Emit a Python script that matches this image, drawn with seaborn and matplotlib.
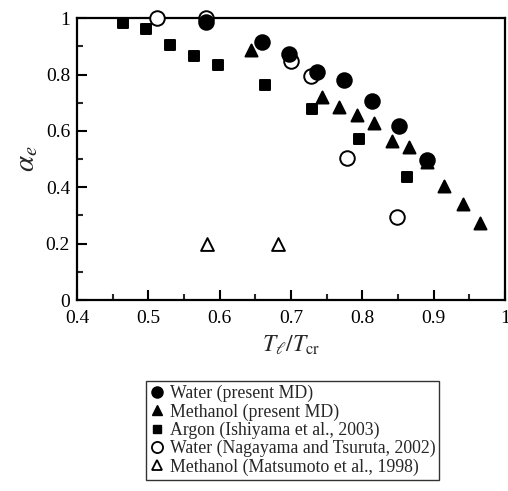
import matplotlib
matplotlib.use("Agg")
import matplotlib.pyplot as plt
import seaborn as sns
import pandas as pd
from matplotlib.ticker import MultipleLocator

# Water (present MD)
water_md_x = [0.581, 0.659, 0.697, 0.737, 0.774, 0.814, 0.852, 0.891]
water_md_y = [0.987, 0.916, 0.872, 0.810, 0.780, 0.706, 0.617, 0.496]
# Methanol (present MD)
meth_md_x = [0.644, 0.743, 0.767, 0.792, 0.816, 0.842, 0.866, 0.891, 0.915, 0.941, 0.965]
meth_md_y = [0.887, 0.719, 0.686, 0.656, 0.627, 0.564, 0.544, 0.490, 0.404, 0.340, 0.272]
# Argon (Ishiyama et al., 2003)
argon_x = [0.464, 0.497, 0.531, 0.564, 0.597, 0.663, 0.730, 0.796, 0.862]
argon_y = [0.983, 0.962, 0.905, 0.865, 0.833, 0.762, 0.676, 0.571, 0.437]
# Water (Nagayama and Tsuruta, 2002)
water_nt_x = [0.512, 0.581, 0.700, 0.728, 0.778, 0.849]
water_nt_y = [1.0, 1.0, 0.848, 0.795, 0.505, 0.295]
# Methanol (Matsumoto et al., 1998)
meth_m_x = [0.582, 0.682]
meth_m_y = [0.20, 0.20]

sns.set_style("ticks")
plt.rcParams['font.family'] = ['Liberation Serif', 'DejaVu Serif']
plt.rcParams['mathtext.fontset'] = 'stix'

fig = plt.figure(figsize=(5.08, 4.91), dpi=100)
ax = fig.add_axes([0.1516, 0.389, 0.8425, 0.574])

series = [
    (water_nt_x, water_nt_y, 'o', 'white', 110, "Water (Nagayama and Tsuruta, 2002)"),
    (argon_x, argon_y, 's', 'black', 60, "Argon (Ishiyama et al., 2003)"),
    (meth_md_x, meth_md_y, '^', 'black', 75, "Methanol (present MD)"),
    (water_md_x, water_md_y, 'o', 'black', 110, "Water (present MD)"),
    (meth_m_x, meth_m_y, '^', 'white', 85, "Methanol (Matsumoto et al., 1998)"),
]
for xs, ys, m, fc, s, lab in series:
    df = pd.DataFrame({'x': xs, 'y': ys})
    sns.scatterplot(data=df, x='x', y='y', ax=ax, marker=m, s=s,
                    facecolor=fc, edgecolor='black', linewidth=1.4,
                    clip_on=False, zorder=3, legend=False)

ax.set_xlim(0.4, 1.0)
ax.set_ylim(0, 1.0)
ax.xaxis.set_minor_locator(MultipleLocator(0.05))
ax.yaxis.set_minor_locator(MultipleLocator(0.1))
ax.set_xticks([0.4, 0.5, 0.6, 0.7, 0.8, 0.9, 1.0])
ax.set_yticks([0, 0.2, 0.4, 0.6, 0.8, 1.0])
ax.set_xticklabels(['0.4', '0.5', '0.6', '0.7', '0.8', '0.9', '1'])
ax.set_yticklabels(['0', '0.2', '0.4', '0.6', '0.8', '1'])
ax.tick_params(which='major', direction='in', length=7, width=1.5, labelsize=14,
               colors='black')
ax.tick_params(axis='x', which='major', pad=7)
ax.tick_params(axis='y', which='major', pad=5)
ax.tick_params(which='minor', direction='in', length=4, width=1.5)
for sp in ax.spines.values():
    sp.set_linewidth(1.6)
    sp.set_color('black')

ax.set_xlabel(r'$T_\ell/T_{\rm cr}$', fontsize=17, labelpad=5)
ax.set_ylabel(r'$\alpha_e$', fontsize=21, labelpad=4)

handles = [
    plt.Line2D([], [], marker='o', ls='', mfc='black', mec='black', ms=8),
    plt.Line2D([], [], marker='^', ls='', mfc='black', mec='black', ms=7),
    plt.Line2D([], [], marker='s', ls='', mfc='black', mec='black', ms=6),
    plt.Line2D([], [], marker='o', ls='', mfc='white', mec='black', ms=8, mew=1.3),
    plt.Line2D([], [], marker='^', ls='', mfc='white', mec='black', ms=7, mew=1.3),
]
labels = ["Water (present MD)", "Methanol (present MD)", "Argon (Ishiyama et al., 2003)",
          "Water (Nagayama and Tsuruta, 2002)", "Methanol (Matsumoto et al., 1998)"]
leg = fig.legend(handles, labels, loc='upper center', bbox_to_anchor=(0.576, 0.224),
                 fontsize=12.8, frameon=True, fancybox=False, edgecolor='black',
                 handlelength=0.8, handletextpad=0.3, labelspacing=0.06,
                 borderpad=0.22, borderaxespad=0)
leg.get_frame().set_linewidth(1.0)

fig.savefig('out.png', dpi=100)
